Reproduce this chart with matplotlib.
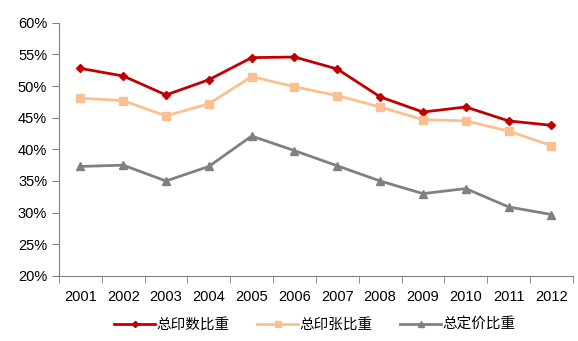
import matplotlib
matplotlib.use("Agg")
import matplotlib.pyplot as plt
import numpy as np
from matplotlib.ticker import FixedLocator, PercentFormatter

plt.rcParams['font.family'] = ['Liberation Sans', 'Noto Sans CJK SC', 'DejaVu Sans']

years = ['2001', '2002', '2003', '2004', '2005', '2006', '2007', '2008', '2009', '2010', '2011', '2012']
total_prints = [52.8, 51.6, 48.6, 51.0, 54.5, 54.6, 52.7, 48.3, 45.9, 46.7, 44.5, 43.8]
total_sheets = [48.1, 47.7, 45.3, 47.2, 51.5, 49.9, 48.5, 46.7, 44.7, 44.5, 42.9, 40.6]
total_price = [37.3, 37.5, 35.0, 37.3, 42.1, 39.8, 37.4, 35.0, 33.0, 33.8, 30.9, 29.7]
labels = ['总印数比重', '总印张比重', '总定价比重']

fig = plt.figure(figsize=(5.78, 3.41), dpi=100)
ax = fig.add_axes([0.102, 0.191, 0.889, 0.742])
x = np.arange(len(years))
ax.plot(x, total_prints, color='#C00000', lw=2, marker='D', ms=4.5, label=labels[0])
ax.plot(x, total_sheets, color='#FAC090', lw=2, marker='s', ms=6, label=labels[1])
ax.plot(x, total_price, color='#808080', lw=2, marker='^', ms=6, label=labels[2])

ax.set_ylim(20, 60)
ax.set_yticks(np.arange(20, 61, 5))
ax.yaxis.set_major_formatter(PercentFormatter(decimals=0))
ax.set_xlim(-0.5, len(years) - 0.5)
ax.set_xticks(x)
ax.set_xticklabels(years)
ax.xaxis.set_minor_locator(FixedLocator(np.arange(-0.5, len(years), 1)))
ax.tick_params(axis='x', which='major', length=0, labelsize=10.5, pad=10)
ax.tick_params(axis='x', which='minor', length=5, color='#808080', direction='out')
ax.tick_params(axis='y', length=5, color='#808080', labelsize=10.5)
for s in ['top', 'right']:
    ax.spines[s].set_visible(False)
for s in ['left', 'bottom']:
    ax.spines[s].set_color('#808080')

leg = fig.legend(loc='center', bbox_to_anchor=(0.545, 0.047), ncol=3, frameon=False,
                 fontsize=10.5, handlelength=2.8, columnspacing=1.9, handletextpad=0.1,
                 markerscale=0.7)
fig.savefig('out.png', dpi=100)
